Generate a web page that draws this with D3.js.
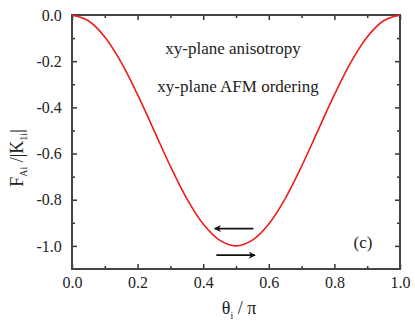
<!DOCTYPE html>
<html>
<head>
<meta charset="utf-8" />
<style>
  body { margin: 0; background: #fff; }
  text { font-family: "Liberation Serif", "DejaVu Serif", serif; fill: #222; }
</style>
</head>
<body>
<svg id="chart"></svg>
<script src="https://d3js.org/d3.v7.min.js"></script>
<script>
// values
var theta = [0, 0.05, 0.1, 0.15, 0.2, 0.25, 0.3, 0.35, 0.4, 0.45, 0.5,
             0.55, 0.6, 0.65, 0.7, 0.75, 0.8, 0.85, 0.9, 0.95, 1.0];
var energy = [0, -0.025, -0.095, -0.205, -0.345, -0.5, -0.655, -0.795, -0.905, -0.975, -1.0,
              -0.975, -0.905, -0.795, -0.655, -0.5, -0.345, -0.205, -0.095, -0.025, 0];
var xTicks = [0, 0.2, 0.4, 0.6, 0.8, 1.0];
var yTicks = [0, -0.2, -0.4, -0.6, -0.8, -1.0];
var labels = ["xy-plane anisotropy", "xy-plane AFM ordering"];

var width = 415, height = 333;
var m = {left: 72, right: 15, top: 15, bottom: 64};

var svg = d3.select("#chart").attr("width", width).attr("height", height);

var x = d3.scaleLinear().domain([0, 1]).range([m.left, width - m.right]);
var y = d3.scaleLinear().domain([-1.1, 0]).range([height - m.bottom, m.top]);

var xMinor = [0.1, 0.3, 0.5, 0.7, 0.9];
var yMinor = [-0.1, -0.3, -0.5, -0.7, -0.9];

// axes with inward ticks
function tickAxis(axis, ticks, len, fmt) {
  return axis.tickValues(ticks).tickSizeInner(-len).tickSizeOuter(0).tickFormat(fmt);
}
// plain hyphen for the minus sign, as in the figure
var f = function(d) { return d3.format(".1f")(d).replace("−", "-"); };

function styleAxis(g) {
  g.select(".domain").remove();
  g.selectAll("line").attr("stroke", "#333").attr("stroke-width", 1.5);
  g.selectAll("text").attr("font-size", "16px").attr("fill", "#222");
}

svg.append("g").attr("transform", "translate(0," + y(-1.1) + ")")
   .call(tickAxis(d3.axisBottom(x), xTicks, 5, f)).call(styleAxis)
   .selectAll("text").attr("dy", "1.0em");
svg.append("g").attr("transform", "translate(0," + y(-1.1) + ")")
   .call(tickAxis(d3.axisBottom(x), xMinor, 3, "")).call(styleAxis);
svg.append("g").attr("transform", "translate(0," + y(0) + ")")
   .call(tickAxis(d3.axisTop(x), xTicks, 5, "")).call(styleAxis);
svg.append("g").attr("transform", "translate(0," + y(0) + ")")
   .call(tickAxis(d3.axisTop(x), xMinor, 3, "")).call(styleAxis);

svg.append("g").attr("transform", "translate(" + x(0) + ",0)")
   .call(tickAxis(d3.axisLeft(y), yTicks, 5, f)).call(styleAxis)
   .selectAll("text").attr("dx", "-0.45em");
svg.append("g").attr("transform", "translate(" + x(0) + ",0)")
   .call(tickAxis(d3.axisLeft(y), yMinor, 3, "")).call(styleAxis);
svg.append("g").attr("transform", "translate(" + x(1) + ",0)")
   .call(tickAxis(d3.axisRight(y), yTicks, 5, "")).call(styleAxis);
svg.append("g").attr("transform", "translate(" + x(1) + ",0)")
   .call(tickAxis(d3.axisRight(y), yMinor, 3, "")).call(styleAxis);

// frame
svg.append("rect")
   .attr("x", x(0)).attr("y", y(0))
   .attr("width", x(1) - x(0)).attr("height", y(-1.1) - y(0))
   .attr("fill", "none").attr("stroke", "#444").attr("stroke-width", 2);

// curve
var line = d3.line()
   .x(function(d, i) { return x(theta[i]); })
   .y(function(d) { return y(d); })
   .curve(d3.curveCatmullRom);

svg.append("path")
   .datum(energy)
   .attr("d", line)
   .attr("fill", "none")
   .attr("stroke", "#ee1c1c")
   .attr("stroke-width", 1.6);

// annotations
svg.append("text").attr("x", 233).attr("y", 54).attr("text-anchor", "middle")
   .attr("font-size", "17px").text(labels[0]);
svg.append("text").attr("x", 238).attr("y", 92).attr("text-anchor", "middle")
   .attr("font-size", "17px").text(labels[1]);
svg.append("text").attr("x", 363).attr("y", 248).attr("text-anchor", "middle")
   .attr("font-size", "17px").text("(c)");

// arrows
svg.append("defs").append("marker")
   .attr("id", "head").attr("viewBox", "0 0 10 10")
   .attr("refX", 9).attr("refY", 5)
   .attr("markerWidth", 10).attr("markerHeight", 7)
   .attr("markerUnits", "userSpaceOnUse")
   .attr("orient", "auto")
   .append("path").attr("d", "M0,0 L10,5 L0,10 L3,5 Z").attr("fill", "#111");

svg.append("line").attr("x1", x(0.553)).attr("x2", x(0.435))
   .attr("y1", y(-0.925)).attr("y2", y(-0.925))
   .attr("stroke", "#111").attr("stroke-width", 1.8).attr("marker-end", "url(#head)");
svg.append("line").attr("x1", x(0.44)).attr("x2", x(0.558))
   .attr("y1", y(-1.04)).attr("y2", y(-1.04))
   .attr("stroke", "#111").attr("stroke-width", 1.8).attr("marker-end", "url(#head)");

// axis titles
var xt = svg.append("text").attr("x", 239).attr("y", 314).attr("text-anchor", "middle")
   .attr("font-size", "18px");
xt.append("tspan").text("θ");
xt.append("tspan").attr("font-size", "10px").attr("dy", "5").text("i");
xt.append("tspan").attr("dy", "-5").text(" / π");

var yt = svg.append("text")
   .attr("transform", "translate(23," + 158 + ") rotate(-90)")
   .attr("text-anchor", "middle").attr("font-size", "18px");
yt.append("tspan").text("F");
yt.append("tspan").attr("font-size", "10px").attr("dy", "4").text("Ai");
yt.append("tspan").attr("dy", "-4").text(" /|K");
yt.append("tspan").attr("font-size", "10px").attr("dy", "4").text("1i");
yt.append("tspan").attr("dy", "-4").text("|");
</script>
</body>
</html>
